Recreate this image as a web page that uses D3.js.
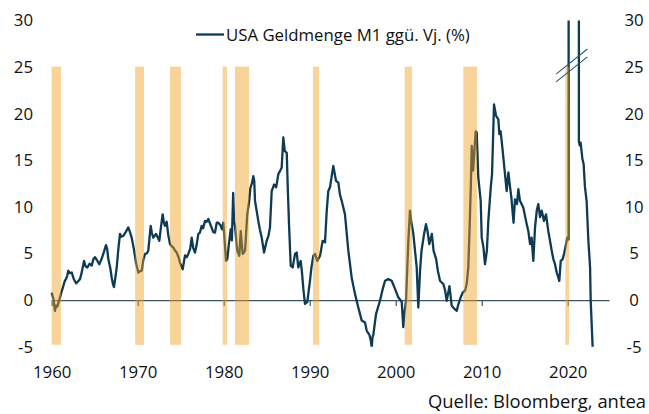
<!DOCTYPE html>
<html>
<head>
<meta charset="utf-8">
<script src="https://cdn.jsdelivr.net/npm/d3@7/dist/d3.min.js"></script>
<style>
  html, body { margin: 0; padding: 0; background: #fff; }
  svg { display: block; font-family: "Open Sans", "Noto Sans", sans-serif; }
  .tick-label { font-size: 16.8px; fill: #111; }
  .legend-label { font-size: 16.8px; fill: #111; }
  .source-label { font-size: 18.4px; fill: #111; }
</style>
</head>
<body>
<div class="box"></div>
<script>
// USA M1 growth y/y in % (decimal years)
var m1Years = [
	1960.00, 1960.20, 1960.38, 1960.50, 1960.65, 1960.97, 1961.15, 1961.35, 1961.50, 1961.66,
	1961.80, 1961.93, 1962.10, 1962.33, 1962.55, 1962.83, 1963.05, 1963.29, 1963.50, 1963.76,
	1963.95, 1964.14, 1964.40, 1964.65, 1964.85, 1965.03, 1965.25, 1965.53, 1965.75, 1966.00,
	1966.31, 1966.45, 1966.58, 1966.80, 1966.98, 1967.10, 1967.24, 1967.40, 1967.56, 1967.75,
	1967.94, 1968.10, 1968.33, 1968.60, 1968.91, 1969.10, 1969.30, 1969.55, 1969.80, 1970.07,
	1970.25, 1970.47, 1970.65, 1970.85, 1971.05, 1971.23, 1971.51, 1971.65, 1971.81, 1972.13,
	1972.30, 1972.51, 1972.70, 1972.90, 1973.05, 1973.17, 1973.37, 1973.55, 1973.76, 1973.95,
	1974.14, 1974.35, 1974.53, 1974.75, 1974.92, 1975.10, 1975.23, 1975.50, 1975.70, 1975.88,
	1976.10, 1976.28, 1976.45, 1976.66, 1976.85, 1977.05, 1977.24, 1977.44, 1977.60, 1977.83,
	1978.00, 1978.21, 1978.50, 1978.79, 1978.99, 1979.19, 1979.37, 1979.65, 1979.80, 1979.95,
	1980.10, 1980.27, 1980.42, 1980.60, 1980.81, 1980.95, 1981.10, 1981.20, 1981.31, 1981.45,
	1981.58, 1981.81, 1981.98, 1982.10, 1982.21, 1982.48, 1982.74, 1982.95, 1983.10, 1983.30,
	1983.44, 1983.55, 1983.64, 1984.02, 1984.20, 1984.42, 1984.69, 1985.00, 1985.20, 1985.38,
	1985.58, 1985.85, 1986.10, 1986.35, 1986.74, 1986.93, 1987.10, 1987.33, 1987.45, 1987.60,
	1987.79, 1988.02, 1988.29, 1988.49, 1988.67, 1988.95, 1989.10, 1989.26, 1989.45, 1989.72,
	1990.03, 1990.20, 1990.42, 1990.62, 1990.88, 1991.20, 1991.51, 1991.78, 1991.98, 1992.16,
	1992.36, 1992.74, 1993.06, 1993.33, 1993.52, 1993.72, 1994.10, 1994.49, 1994.88, 1995.27,
	1995.65, 1996.05, 1996.43, 1996.63, 1996.93, 1997.10, 1997.21, 1997.30, 1997.40, 1997.71,
	1998.17, 1998.49, 1998.76, 1999.14, 1999.53, 1999.92, 2000.30, 2000.70, 2000.88, 2001.00,
	2001.20, 2001.47, 2001.66, 2001.80, 2002.05, 2002.44, 2002.63, 2002.83, 2003.00, 2003.30,
	2003.52, 2003.70, 2003.90, 2004.20, 2004.40, 2004.70, 2004.90, 2005.15, 2005.55, 2005.75,
	2005.93, 2006.25, 2006.51, 2006.90, 2007.10, 2007.30, 2007.56, 2007.80, 2008.06, 2008.25,
	2008.44, 2008.60, 2008.75, 2008.84, 2009.00, 2009.15, 2009.30, 2009.42, 2009.60, 2009.88,
	2010.00, 2010.20, 2010.38, 2010.60, 2010.77, 2011.05, 2011.20, 2011.43, 2011.66, 2011.93,
	2012.05, 2012.20, 2012.44, 2012.71, 2012.90, 2013.10, 2013.30, 2013.45, 2013.55, 2013.70,
	2013.87, 2014.10, 2014.26, 2014.45, 2014.84, 2015.15, 2015.42, 2015.62, 2015.80, 2016.00,
	2016.20, 2016.40, 2016.58, 2016.78, 2016.98, 2017.24, 2017.48, 2017.74, 2017.94, 2018.14,
	2018.33, 2018.52, 2018.72, 2018.91, 2019.02, 2019.19, 2019.42, 2019.57, 2019.80, 2019.95,
	2020.10, 2020.18, 2021.26, 2021.30, 2021.40, 2021.50, 2021.70, 2021.85, 2022.00, 2022.20,
	2022.40, 2022.60, 2022.67, 2022.90, 2023.10
];

var m1Growth = [
	0.8, 0.1, -1.15, -0.6, -0.7, 0.3, 0.9, 1.5, 2.0, 2.25,
	2.6, 3.15, 2.9, 2.96, 2.3, 1.8, 2.0, 2.25, 3.0, 4.2,
	3.6, 3.5, 3.9, 3.7, 4.4, 4.6, 4.3, 3.85, 4.3, 4.95,
	5.9, 5.5, 4.4, 3.5, 2.4, 1.8, 1.4, 2.4, 3.5, 5.5,
	7.1, 6.8, 6.9, 7.3, 7.8, 7.3, 6.7, 5.5, 4.0, 2.96,
	3.1, 3.15, 4.3, 4.95, 5.0, 5.3, 7.97, 7.2, 6.7, 7.1,
	6.8, 6.36, 7.8, 9.2, 8.3, 7.97, 8.4, 7.0, 6.0, 5.8,
	5.65, 5.3, 5.1, 4.6, 4.0, 3.6, 3.3, 4.8, 4.6, 4.95,
	5.5, 6.7, 5.6, 5.1, 5.9, 7.1, 7.25, 7.97, 7.7, 8.5,
	8.4, 8.7, 8.0, 7.3, 7.25, 8.3, 8.3, 8.0, 7.6, 8.3,
	6.5, 4.2, 4.4, 6.0, 7.6, 6.4, 11.5, 8.5, 8.0, 6.5,
	5.3, 4.75, 7.4, 6.0, 4.95, 5.3, 9.2, 10.5, 12.0, 12.6,
	13.3, 12.8, 10.65, 8.5, 7.6, 6.7, 5.1, 6.36, 6.9, 7.8,
	11.7, 12.4, 12.1, 13.5, 14.2, 17.45, 16.0, 15.8, 12.0, 8.0,
	3.7, 3.5, 4.95, 5.1, 3.5, 4.2, 3.0, 1.2, -0.4, -0.2,
	2.07, 3.5, 4.75, 4.95, 4.2, 4.75, 6.36, 6.2, 9.6, 11.7,
	12.1, 14.4, 12.8, 12.6, 11.3, 10.65, 9.2, 5.3, 2.4, 0.64,
	-0.8, -2.2, -2.4, -3.3, -3.7, -4.3, -5.1, -4.0, -3.7, -1.5,
	-0.07, 1.2, 2.07, 2.25, 2.07, 1.2, 0.3, -0.2, -2.9, -1.5,
	0.0, 6.36, 9.6, 8.5, 7.1, 3.5, -0.8, 3.15, 5.3, 7.1,
	8.15, 7.4, 6.0, 7.1, 5.3, 4.4, 3.15, 2.07, 1.7, 1.0,
	-0.07, 1.5, -0.6, -1.0, -1.15, -0.4, 0.3, 0.82, 1.0, 1.7,
	3.5, 8.0, 12.8, 16.55, 13.9, 16.0, 18.1, 18.0, 13.2, 10.65,
	6.7, 5.65, 3.85, 5.3, 8.5, 12.1, 13.5, 21.0, 19.8, 19.4,
	17.8, 18.1, 16.0, 13.5, 11.7, 13.7, 12.1, 11.0, 9.9, 8.3,
	10.8, 10.3, 11.9, 10.65, 9.9, 8.5, 7.4, 6.0, 6.7, 4.2,
	7.8, 9.6, 10.3, 8.9, 9.6, 8.5, 9.2, 7.4, 6.36, 5.3,
	4.4, 3.85, 2.96, 2.4, 2.07, 4.2, 4.4, 4.95, 6.0, 6.7,
	6.5, 350, 350, 17.0, 16.6, 16.9, 15.2, 14.6, 12.2, 10.6,
	6.4, 3.5, 0.0, -5.1, -8.0
];

// US recessions (shaded)
var recessionStart = [1960.00, 1969.70, 1973.76, 1979.88, 1981.31, 1990.38, 2001.05, 2007.86, 2019.72];
var recessionEnd   = [1961.08, 1970.73, 1975.03, 1980.38, 1982.94, 1991.08, 2001.90, 2009.45, 2020.15];

var decadeTicks = [1960, 1970, 1980, 1990, 2000, 2010, 2020];
var valueTicks = [-5, 0, 5, 10, 15, 20, 25, 30];

var legendLabel = 'USA Geldmenge M1 ggü. Vj. (%)';
var sourceLabel = 'Quelle: Bloomberg, antea';


function drawChart()
{
	var width = 649, height = 414;

	var svg = d3.select('.box')
		.append('svg')
		.attr('width', width)
		.attr('height', height);

	var x = d3.scaleLinear()
		.domain([1960, 2024.8])
		.range([51.7, 609]);

	var y = d3.scaleLinear()
		.domain([-5, 30])
		.range([346.7, 20.5]);

	// plain hyphen for negatives, like the original
	var fmt = function(d) { return String(d); };

	var series = m1Years.map(function(d, i) { return {year: d, value: m1Growth[i]}; });
	var recessions = recessionStart.map(function(d, i) { return {start: d, end: recessionEnd[i]}; });

	svg.append('clipPath')
		.attr('id', 'plot-clip')
		.append('rect')
			.attr('x', 0)
			.attr('y', y(30))
			.attr('width', width)
			.attr('height', y(-5) - y(30));

	// zero line with decade ticks
	var xAxis = svg.append('g')
		.attr('transform', 'translate(0,' + y(0) + ')')
		.call(d3.axisBottom(x)
			.tickValues(decadeTicks)
			.tickSize(6)
			.tickSizeOuter(0)
			.tickPadding(60)
			.tickFormat(fmt));

	xAxis.attr('font-size', null).attr('font-family', null);
	xAxis.select('.domain').attr('stroke', '#3b5568').attr('stroke-width', 1.2);
	xAxis.selectAll('.tick line').attr('stroke', '#3b5568').attr('stroke-width', 1.2);
	xAxis.selectAll('.tick text').attr('class', 'tick-label');

	// left and right value labels
	var yLeft = svg.append('g')
		.attr('transform', 'translate(33,0)')
		.call(d3.axisLeft(y).tickValues(valueTicks).tickSize(0).tickPadding(0).tickFormat(fmt));
	yLeft.select('.domain').remove();
	yLeft.attr('font-size', null).attr('font-family', null);
	yLeft.selectAll('.tick text').attr('class', 'tick-label');

	var yRight = svg.append('g')
		.attr('transform', 'translate(634,0)')
		.call(d3.axisRight(y).tickValues(valueTicks).tickSize(0).tickPadding(0).tickFormat(fmt));
	yRight.select('.domain').remove();
	yRight.attr('font-size', null).attr('font-family', null).attr('text-anchor', 'middle');
	yRight.selectAll('.tick text').attr('class', 'tick-label');

	// M1 line
	var line = d3.line()
		.x(function(d) { return x(d.year); })
		.y(function(d) { return y(d.value); });

	svg.append('path')
		.datum(series)
		.attr('clip-path', 'url(#plot-clip)')
		.attr('d', line)
		.attr('fill', 'none')
		.attr('stroke', '#0d3a55')
		.attr('stroke-width', 2.3)
		.attr('stroke-linejoin', 'round');

	// recession bars drawn over the line, semi transparent
	svg.selectAll('rect.recession')
		.data(recessions)
		.enter()
		.append('rect')
			.attr('class', 'recession')
			.attr('x', function(d) { return x(d.start); })
			.attr('y', y(25.05))
			.attr('width', function(d) { return x(d.end) - x(d.start); })
			.attr('height', y(-4.8) - y(25.05))
			.style('fill', '#f0a020')
			.style('fill-opacity', 0.45);

	// axis break marks on the 2020 spike
	var breaks = [
		{x1: 2018.65, y1: 24.25, x2: 2022.29, y2: 26.94},
		{x1: 2018.65, y1: 23.42, x2: 2022.29, y2: 26.10}
	];

	svg.selectAll('line.break')
		.data(breaks)
		.enter()
		.append('line')
			.attr('class', 'break')
			.attr('x1', function(d) { return x(d.x1); })
			.attr('y1', function(d) { return y(d.y1); })
			.attr('x2', function(d) { return x(d.x2); })
			.attr('y2', function(d) { return y(d.y2); })
			.attr('stroke', '#2a5873')
			.attr('stroke-width', 1.1);

	// legend
	svg.append('line')
		.attr('x1', 196)
		.attr('y1', 34.5)
		.attr('x2', 224)
		.attr('y2', 34.5)
		.attr('stroke', '#0d3a55')
		.attr('stroke-width', 2.3);

	svg.append('text')
		.attr('x', 226)
		.attr('y', 40.5)
		.attr('class', 'legend-label')
		.text(legendLabel);

	svg.append('text')
		.attr('x', 646)
		.attr('y', 408)
		.attr('text-anchor', 'end')
		.attr('class', 'source-label')
		.text(sourceLabel);
}

drawChart();
</script>
</body>
</html>
